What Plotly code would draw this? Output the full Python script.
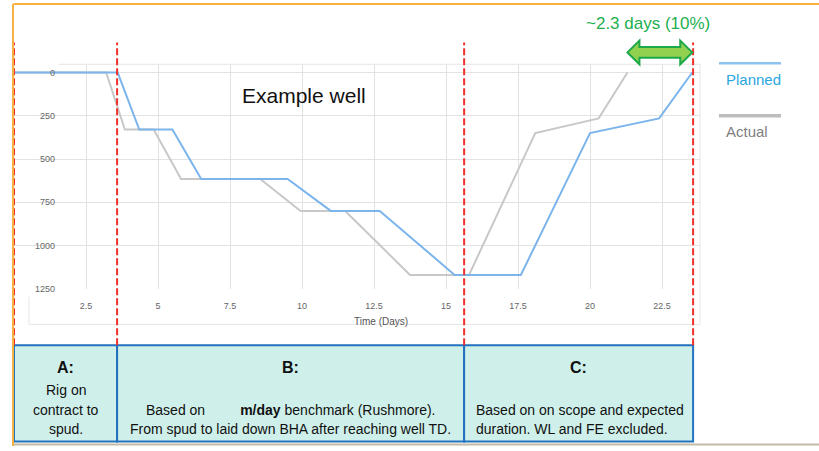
import plotly.graph_objects as go

# ---------------- data ----------------
planned_days = [0, 3.6, 4.35, 5.5, 6.5, 9.5, 11.0, 12.7, 15.3, 17.6, 20.0, 22.4, 23.55]
planned_depth = [0, 0, 330, 330, 615, 615, 800, 800, 1170, 1170, 350, 265, 0]
actual_days = [0, 3.2, 3.85, 4.85, 5.8, 8.55, 9.95, 11.5, 13.75, 15.8, 18.1, 20.3, 21.3]
actual_depth = [0, 0, 330, 330, 615, 615, 800, 800, 1170, 1170, 350, 265, 0]
x_ticks = [2.5, 5, 7.5, 10, 12.5, 15, 17.5, 20, 22.5]
y_ticks = [0, 250, 500, 750, 1000, 1250]
phase_bounds = [0, 3.58, 15.63, 23.58]
phase_titles = ["A:", "B:", "C:"]
phase_lines = [
    ["Rig on", "contract to", "spud."],
    ["Based on\u00a0\u00a0\u00a0\u00a0\u00a0\u00a0\u00a0\u00a0\u00a0<b>m/day</b> benchmark (Rushmore).",
     "From spud to laid down BHA after reaching well TD."],
    ["Based on on scope and expected", "duration. WL and FE excluded."],
]
series_names = ["Planned", "Actual"]
saving_label = "~2.3 days (10%)"

W, H = 819, 451
def px(x):
    return x / W
def py(y):
    return 1 - y / H

NARROW = "Liberation Sans Narrow, Arial Narrow, Liberation Sans, Arial, sans-serif"
SANS = "Liberation Sans, Arial, sans-serif"

fig = go.Figure()
fig.add_trace(go.Scatter(x=actual_days, y=actual_depth, mode="lines", name=series_names[1],
                         line=dict(color="#C8C8C8", width=2), showlegend=False, hoverinfo="skip"))
fig.add_trace(go.Scatter(x=planned_days, y=planned_depth, mode="lines", name=series_names[0], yaxis="y2",
                         line=dict(color="#7CB5EC", width=2), showlegend=False, hoverinfo="skip"))

x_max = (700 - 14) / 28.8
shapes = []
# plot area frame
shapes.append(dict(type="rect", xref="paper", yref="paper", x0=px(29), x1=px(700), y0=py(328), y1=py(65),
                   line=dict(color="#E6E6E6", width=1), layer="below"))
# cover gridlines left of the y labels
shapes.append(dict(type="rect", xref="paper", yref="paper", x0=px(14), x1=px(59), y0=py(300), y1=py(60),
                   line=dict(width=0), fillcolor="white", layer="between"))
# boxes
for i in range(3):
    shapes.append(dict(type="rect", xref="x", yref="paper", x0=phase_bounds[i], x1=phase_bounds[i + 1],
                       y0=py(446.5), y1=py(349), fillcolor="#CFF0EA", line=dict(color="#2372C0", width=2),
                       layer="above"))
# red dashed phase lines
for b in phase_bounds:
    shapes.append(dict(type="line", xref="x", yref="paper", x0=b, x1=b, y0=py(349), y1=py(43),
                       line=dict(color="#F0302A", width=2, dash="7px,3px"), layer="above"))
# outer border lines
shapes.append(dict(type="line", xref="paper", yref="paper", x0=px(13.5), x1=px(819), y0=py(4), y1=py(4),
                   line=dict(color="#F7B143", width=2)))
shapes.append(dict(type="line", xref="paper", yref="paper", x0=px(13), x1=px(13), y0=py(4), y1=py(451),
                   line=dict(color="#F7B143", width=2)))
shapes.append(dict(type="line", xref="paper", yref="paper", x0=px(14), x1=px(819), y0=py(449.5), y1=py(449.5),
                   line=dict(color="#C4BBA5", width=2)))
# legend glyphs
shapes.append(dict(type="line", xref="paper", yref="paper", x0=px(719), x1=px(781), y0=py(64), y1=py(64),
                   line=dict(color="#8EC3F0", width=2.5)))
shapes.append(dict(type="line", xref="paper", yref="paper", x0=px(719), x1=px(781), y0=py(117), y1=py(117),
                   line=dict(color="#BDBDBD", width=3.5)))
# double arrow between actual end and planned end
xa, xb = actual_days[-1], planned_days[-1]
hl = 12 / 28.8
yc, s, hh = 53, 5.5, 12
pts = [(xa, yc), (xa + hl, yc - hh), (xa + hl, yc - s), (xb - hl, yc - s), (xb - hl, yc - hh), (xb, yc),
       (xb - hl, yc + hh), (xb - hl, yc + s), (xa + hl, yc + s), (xa + hl, yc + hh)]
path = "M " + " L ".join(f"{x:.4f},{py(y):.4f}" for x, y in pts) + " Z"
shapes.append(dict(type="path", xref="x", yref="paper", path=path, fillcolor="#92D050",
                   line=dict(color="#1DA84A", width=2), layer="above"))

ann = []
ann.append(dict(text="Example well", x=px(304), y=py(97), xref="paper", yref="paper", showarrow=False,
                font=dict(family=SANS, size=21, color="#111111"), xanchor="center", yanchor="middle"))
ann.append(dict(text=saving_label, x=px(648), y=py(24), xref="paper", yref="paper", showarrow=False,
                font=dict(family=SANS, size=17, color="#1CAF50"), xanchor="center", yanchor="middle"))
ann.append(dict(text="Time (Days)", x=px(381), y=py(325), xref="paper", yref="paper", showarrow=False,
                font=dict(family=SANS, size=10, color="#555555"), xanchor="center", yanchor="middle"))
ann.append(dict(text=series_names[0], x=px(724), y=py(80), xref="paper", yref="paper", showarrow=False,
                font=dict(family=SANS, size=15, color="#2BA6E1"), xanchor="left", yanchor="middle"))
ann.append(dict(text=series_names[1], x=px(724), y=py(133), xref="paper", yref="paper", showarrow=False,
                font=dict(family=SANS, size=15, color="#7F7F7F"), xanchor="left", yanchor="middle"))
for i in range(3):
    xm = (phase_bounds[i] + phase_bounds[i + 1]) / 2
    ann.append(dict(text="<b>" + phase_titles[i] + "</b>", x=xm, y=py(371.5), xref="x", yref="paper",
                    showarrow=False, font=dict(family=NARROW, size=16, color="#111111"),
                    xanchor="center", yanchor="middle"))
line_rows = {3: [394, 414.5, 434], 2: [414.5, 434]}
c_left = 474
for i, lines in enumerate(phase_lines):
    xm = (phase_bounds[i] + phase_bounds[i + 1]) / 2
    for txt, yy in zip(lines, line_rows[len(lines)]):
        if i == 2:
            a = dict(x=px(c_left), xref="paper", xanchor="left")
        else:
            a = dict(x=xm, xref="x", xanchor="center")
        ann.append(dict(text=txt, y=py(yy), yref="paper", showarrow=False,
                        font=dict(family=NARROW, size=14, color="#111111"), yanchor="middle", **a))

yr = [1250, -42]
fig.update_layout(
    width=W, height=H, margin=dict(l=0, r=0, t=0, b=0), autosize=False,
    paper_bgcolor="white", plot_bgcolor="white", showlegend=False,
    xaxis=dict(domain=[px(14), px(700)], range=[0, x_max], tickvals=x_ticks, ticktext=[f"{v:g}" for v in x_ticks],
               showgrid=True, gridcolor="#E3E3E3", gridwidth=1, zeroline=False, showline=False, ticks="",
               tickfont=dict(family=SANS, size=9, color="#666666"), ticklabelstandoff=10),
    yaxis=dict(domain=[py(292), py(66)], range=yr, tickvals=y_ticks, showticklabels=False, showgrid=True,
               gridcolor="#E3E3E3", gridwidth=1, zeroline=False, showline=False, ticks=""),
    yaxis2=dict(overlaying="y", anchor="free", position=px(55), side="left", range=yr, tickvals=y_ticks,
                ticktext=[f"{v:g}" for v in y_ticks], showgrid=True, gridcolor="#E3E3E3", zeroline=False,
                showline=False, ticks="", tickfont=dict(family=SANS, size=9, color="#666666")),
    shapes=shapes, annotations=ann,
)
fig.write_html("out.html", config={"displayModeBar": False},
               post_script="document.body.style.margin='0';document.body.style.overflow='hidden';")
